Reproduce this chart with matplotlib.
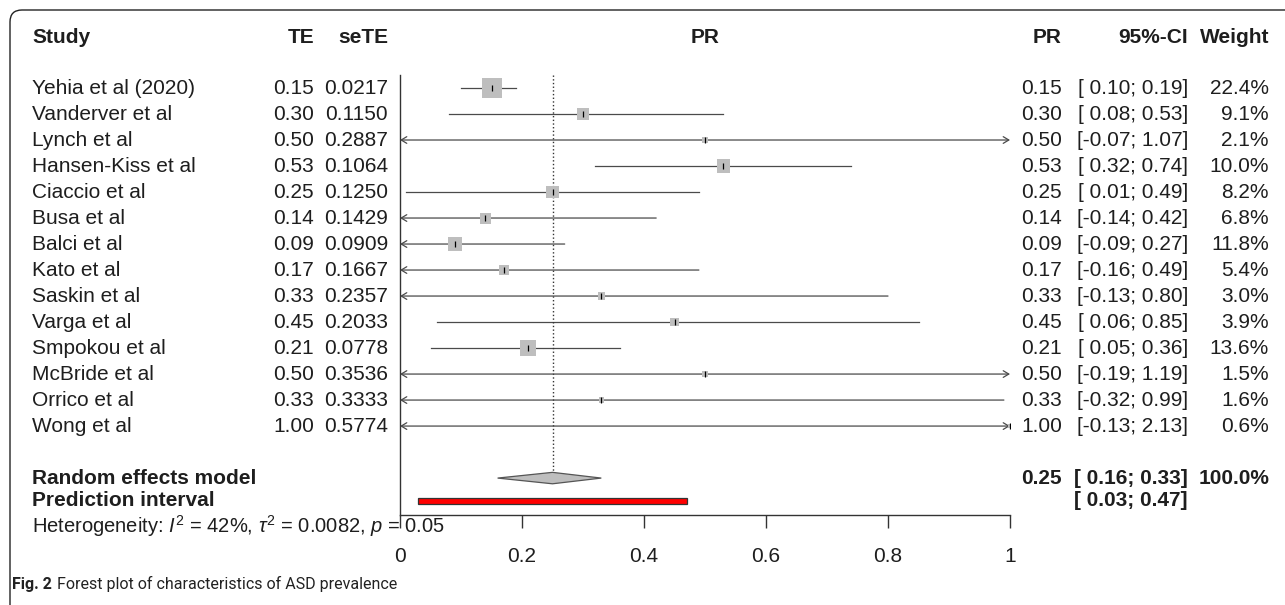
import matplotlib
matplotlib.use("Agg")
import matplotlib.pyplot as plt
import matplotlib.patches as mpatches
from matplotlib import font_manager
from matplotlib.transforms import blended_transform_factory
import numpy as np

# data
studies = ["Yehia et al (2020)", "Vanderver et al", "Lynch et al", "Hansen-Kiss et al",
           "Ciaccio et al", "Busa et al", "Balci et al", "Kato et al", "Saskin et al",
           "Varga et al", "Smpokou et al", "McBride et al", "Orrico et al", "Wong et al"]
te = [0.15, 0.30, 0.50, 0.53, 0.25, 0.14, 0.09, 0.17, 0.33, 0.45, 0.21, 0.50, 0.33, 1.00]
sete = [0.0217, 0.1150, 0.2887, 0.1064, 0.1250, 0.1429, 0.0909, 0.1667, 0.2357,
        0.2033, 0.0778, 0.3536, 0.3333, 0.5774]
ci_lo = [0.10, 0.08, -0.07, 0.32, 0.01, -0.14, -0.09, -0.16, -0.13, 0.06, 0.05, -0.19, -0.32, -0.13]
ci_hi = [0.19, 0.53, 1.07, 0.74, 0.49, 0.42, 0.27, 0.49, 0.80, 0.85, 0.36, 1.19, 0.99, 2.13]
weights = [22.4, 9.1, 2.1, 10.0, 8.2, 6.8, 11.8, 5.4, 3.0, 3.9, 13.6, 1.5, 1.6, 0.6]

pooled, pooled_lo, pooled_hi = 0.25, 0.16, 0.33
pred_lo, pred_hi = 0.03, 0.47
hetero = r"Heterogeneity: $I^2$ = 42%, $\tau^2$ = 0.0082, $p$ = 0.05"
xticks = [0, 0.2, 0.4, 0.6, 0.8, 1]
xtick_labels = ["0", "0.2", "0.4", "0.6", "0.8", "1"]

plt.rcParams['font.family'] = ['Liberation Sans', 'DejaVu Sans']
plt.rcParams['mathtext.fontset'] = 'custom'
plt.rcParams['mathtext.rm'] = 'Liberation Sans'
plt.rcParams['mathtext.it'] = 'Liberation Sans:italic'
plt.rcParams['mathtext.bf'] = 'Liberation Sans:bold'

names = {f.name for f in font_manager.fontManager.ttflist}
if 'Liberation Sans Narrow' in names:
    cap_font, cap_size = ['Liberation Sans Narrow', 'DejaVu Sans'], 12.5
else:
    cap_font, cap_size = ['Roboto', 'DejaVu Sans'], 11.5

W, H = 1285, 605
fig = plt.figure(figsize=(W / 100, H / 100), dpi=100)

# rounded frame of the figure panel
frame = mpatches.FancyBboxPatch((0.10, -0.12), 12.9, 6.07,
                                boxstyle="round,pad=0,rounding_size=0.12",
                                transform=fig.dpi_scale_trans, fill=False,
                                ec='#222222', lw=1.0)
fig.patches.append(frame)

ax = fig.add_axes([400 / W, (H - 515) / H, 610 / W, 440 / H])
ax.set_xlim(0, 1)
ax.set_ylim(16.42, -0.5)

txt = '#1e1e1e'
line_c = '#4a4a4a'
sq_c = '#bebebe'
n = len(studies)
y = np.arange(n)
y_pool = n + 1
y_pred = y_pool + 0.88
y_het = y_pool + 1.85
y_head = -1.96

# confidence intervals, clipped with arrows
for i in range(n):
    lo, hi = ci_lo[i], ci_hi[i]
    left, right = lo < 0, hi > 1
    a, b = max(lo, 0), min(hi, 1)
    if left and right:
        st = '<->'
    elif left:
        st = '<-'
    elif right:
        st = '->'
    else:
        st = '-'
    if st == '-':
        ax.plot([a, b], [y[i], y[i]], color=line_c, lw=0.9)
    else:
        ax.annotate('', xy=(b, y[i]), xytext=(a, y[i]),
                    arrowprops=dict(arrowstyle=st + ',head_length=0.5,head_width=0.3',
                                    color=line_c, lw=0.9, shrinkA=0, shrinkB=0,
                                    mutation_scale=8))

side_px = 20 * np.sqrt(np.array(weights) / max(weights))
ax.scatter(te, y, marker='s', s=(side_px * 0.72) ** 2, color=sq_c, edgecolors='none', zorder=3)
ax.plot(te, y, linestyle='none', marker='|', ms=4.5, mew=0.9, color='black', zorder=4)

# reference line at pooled estimate
h = 0.22
ax.plot([pooled, pooled], [-0.5, y_pool - h], ls=':', color='#333333', lw=1)

diamond = mpatches.Polygon([(pooled_lo, y_pool), (pooled, y_pool - h),
                            (pooled_hi, y_pool), (pooled, y_pool + h)],
                           closed=True, fc=sq_c, ec='#555555', lw=0.9, zorder=3)
ax.add_patch(diamond)
ax.add_patch(mpatches.Rectangle((pred_lo, y_pred - 0.11), pred_hi - pred_lo, 0.22,
                                fc='#ff0000', ec='#333333', lw=0.9, zorder=3))

for s in ['top', 'right']:
    ax.spines[s].set_visible(False)
for s in ['left', 'bottom']:
    ax.spines[s].set_color('#333333')
    ax.spines[s].set_linewidth(1)
ax.set_yticks([])
ax.set_xticks(xticks)
ax.set_xticklabels(xtick_labels)
ax.tick_params(axis='x', length=9, width=1, color='#333333', pad=14,
               labelsize=15, labelcolor=txt)

# text columns
tr = blended_transform_factory(fig.transFigure, ax.transData)
fs = 15
X_STUDY, X_TE, X_SETE, X_PR, X_CI, X_W = 32, 314, 388, 1062, 1188, 1269


def put(xpx, yy, s, ha='left', bold=False, size=fs):
    ax.text(xpx / W, yy, s, transform=tr, ha=ha, va='center', fontsize=size,
            fontweight='bold' if bold else 'normal', color=txt, clip_on=False)


def fmt_ci(lo, hi):
    return "[" + (" " if lo >= 0 else "") + f"{lo:.2f}; {hi:.2f}]"


put(X_STUDY, y_head, "Study", bold=True)
put(X_TE, y_head, "TE", ha='right', bold=True)
put(X_SETE, y_head, "seTE", ha='right', bold=True)
put(705, y_head, "PR", ha='center', bold=True)
put(X_PR, y_head, "PR", ha='right', bold=True)
put(X_CI, y_head, "95%-CI", ha='right', bold=True)
put(X_W, y_head, "Weight", ha='right', bold=True)

for i in range(n):
    put(X_STUDY, y[i], studies[i])
    put(X_TE, y[i], f"{te[i]:.2f}", ha='right')
    put(X_SETE, y[i], f"{sete[i]:.4f}", ha='right')
    put(X_PR, y[i], f"{te[i]:.2f}", ha='right')
    put(X_CI, y[i], fmt_ci(ci_lo[i], ci_hi[i]), ha='right')
    put(X_W, y[i], f"{weights[i]:.1f}%", ha='right')

put(X_STUDY, y_pool, "Random effects model", bold=True)
put(X_PR, y_pool, f"{pooled:.2f}", ha='right', bold=True)
put(X_CI, y_pool, fmt_ci(pooled_lo, pooled_hi), ha='right', bold=True)
put(X_W, y_pool, "100.0%", ha='right', bold=True)
put(X_STUDY, y_pred, "Prediction interval", bold=True)
put(X_CI, y_pred, fmt_ci(pred_lo, pred_hi), ha='right', bold=True)
put(X_STUDY, y_het, hetero, size=14.5)

# caption
t1 = fig.text(12 / W, 1 - 584 / H, "Fig. 2", fontsize=cap_size, fontweight='bold',
              family=cap_font, color='#222222', va='center')
ax.annotate("Forest plot of characteristics of ASD prevalence", xy=(1, 0.5),
            xycoords=t1, xytext=(4, 0), textcoords='offset points',
            va='center', ha='left', fontsize=cap_size, family=cap_font,
            color='#222222', annotation_clip=False)

fig.savefig("out.png", dpi=100)
